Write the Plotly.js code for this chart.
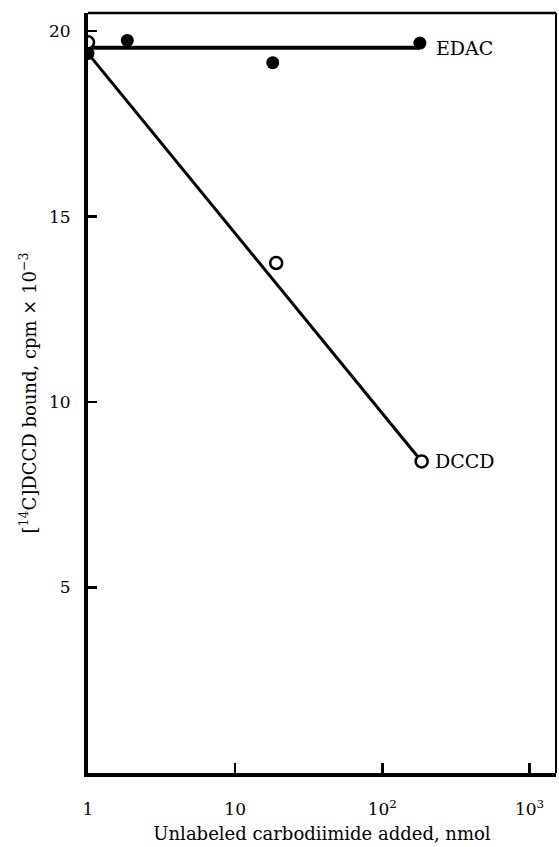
<!DOCTYPE html>
<html>
<head>
<meta charset="utf-8">
<script src="https://cdn.plot.ly/plotly-3.0.1.min.js"></script>
<style>html,body{margin:0;padding:0;background:#fff;}#chart{width:559px;height:847px;}</style>
</head>
<body>
<div id="chart"></div>
<script>
// Measured points
const edacX = [1, 1.85, 18, 180];
const edacY = [19.4, 19.75, 19.15, 19.68];
const dccdX = [1, 19, 185];
const dccdY = [19.7, 13.75, 8.4];
// Fitted lines drawn in the figure
const edacFitX = [1, 180];
const edacFitY = [19.55, 19.55];
const dccdFitX = [1, 185];
const dccdFitY = [19.4, 8.4];
// Ticks
const xTickVals = [1, 10, 100, 1000];
const xTickText = ['1', '10', '10<sup>2</sup>', '10<sup>3</sup>'];
const yTickVals = [5, 10, 15, 20];
const yTickText = ['5', '10', '15', '20'];

const FONT = 'DejaVu Serif, Liberation Serif, serif';

const traces = [
  {x: edacFitX, y: edacFitY, mode: 'lines', line: {color: '#000', width: 4}, hoverinfo: 'skip'},
  {x: dccdFitX, y: dccdFitY, mode: 'lines', line: {color: '#000', width: 3}, hoverinfo: 'skip'},
  {x: edacX, y: edacY, mode: 'markers', marker: {symbol: 'circle', size: 13, color: '#000'}},
  {x: dccdX, y: dccdY, mode: 'markers', marker: {symbol: 'circle', size: 12, color: '#fff', line: {color: '#000', width: 2.5}}}
];

const layout = {
  width: 559, height: 847,
  margin: {l: 88, r: 3, t: 13, b: 74},
  paper_bgcolor: '#fff', plot_bgcolor: '#fff',
  showlegend: false,
  font: {family: FONT, color: '#000', size: 17},
  xaxis: {
    type: 'log', range: [0, 3.18],
    tickvals: xTickVals, ticktext: xTickText,
    ticks: 'inside', ticklen: 10, tickwidth: 2.5, tickcolor: '#000',
    showline: true, linewidth: 4, linecolor: '#000',
    showgrid: false, zeroline: false,
    ticklabelstandoff: 18,
    tickfont: {family: FONT, size: 17, color: '#000'},
    title: {text: 'Unlabeled carbodiimide added, nmol', font: {family: FONT, size: 18, color: '#000'}, standoff: 10}
  },
  yaxis: {
    range: [0, 20.49],
    tickvals: yTickVals, ticktext: yTickText,
    ticks: 'inside', ticklen: 9, tickwidth: 2.5, tickcolor: '#000',
    showline: true, linewidth: 4, linecolor: '#000',
    showgrid: false, zeroline: false,
    ticklabelstandoff: 10,
    tickfont: {family: FONT, size: 17, color: '#000'},
    title: {text: '[<sup>14</sup>C]DCCD bound, cpm × 10<sup>−3</sup>', font: {family: FONT, size: 18, color: '#000'}, standoff: 9}
  },
  shapes: [
    {type: 'line', xref: 'paper', yref: 'paper', x0: 0, x1: 1, y0: 1, y1: 1, line: {color: '#000', width: 2.5}},
    {type: 'line', xref: 'paper', yref: 'paper', x0: 1, x1: 1, y0: 0, y1: 1, line: {color: '#000', width: 2}}
  ],
  annotations: [
    {x: Math.log10(edacX[3]), y: edacFitY[1], xref: 'x', yref: 'y', text: 'EDAC', showarrow: false, xanchor: 'left', xshift: 14, font: {family: FONT, size: 19, color: '#000'}},
    {x: Math.log10(dccdX[2]), y: dccdY[2], xref: 'x', yref: 'y', text: 'DCCD', showarrow: false, xanchor: 'left', xshift: 11, font: {family: FONT, size: 19, color: '#000'}}
  ]
};

Plotly.newPlot('chart', traces, layout, {displayModeBar: false, staticPlot: true});
</script>
</body>
</html>
